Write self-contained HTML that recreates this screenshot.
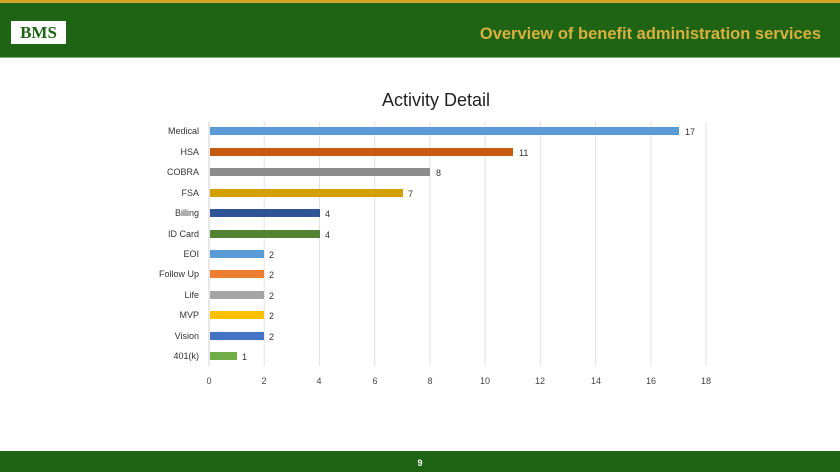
<!DOCTYPE html>
<html><head><meta charset="utf-8"><style>
body{margin:0;width:840px;height:472px;overflow:hidden;background:#fff;font-family:"Liberation Sans",sans-serif;position:relative}
.top{position:absolute;left:0;top:0;width:840px;height:3px;background:#d4a628}
.hdr{position:absolute;left:0;top:3px;width:840px;height:54px;background:#1e6414;border-bottom:1px solid #7fb070}
.logo{position:absolute;left:11px;top:18px;width:55px;height:23px;background:#fff;color:#1e6414;font-family:"Liberation Serif",serif;font-weight:bold;font-size:17px;text-align:center;line-height:23px}
.ttl{position:absolute;right:19px;top:22px;color:#d9b040;font-weight:bold;font-size:16.5px}
.ftr{position:absolute;left:0;top:451px;width:840px;height:21px;background:#1e6414;color:#fff;font-size:9px;font-weight:bold;text-align:center;line-height:25px}
</style></head><body>
<div class="top"></div><div class="hdr"><div class="logo">BMS</div><div class="ttl">Overview of benefit administration services</div></div>
<svg width="840" height="472" style="position:absolute;left:0;top:0" font-family="Liberation Sans, sans-serif">
<text x="436" y="106" font-size="18" text-anchor="middle" fill="#222">Activity Detail</text>
<g stroke="#e0e0e0" stroke-width="1">
<line x1="264.2" y1="122" x2="264.2" y2="366"/><line x1="319.4" y1="122" x2="319.4" y2="366"/><line x1="374.7" y1="122" x2="374.7" y2="366"/><line x1="429.9" y1="122" x2="429.9" y2="366"/><line x1="485.1" y1="122" x2="485.1" y2="366"/><line x1="540.3" y1="122" x2="540.3" y2="366"/><line x1="595.6" y1="122" x2="595.6" y2="366"/><line x1="650.8" y1="122" x2="650.8" y2="366"/><line x1="706" y1="122" x2="706" y2="366"/>
</g>
<line x1="209" y1="122" x2="209" y2="366" stroke="#cfcfcf"/>
<g font-size="9" fill="#444" text-anchor="middle">
<text x="209" y="384">0</text><text x="264" y="384">2</text><text x="319" y="384">4</text><text x="375" y="384">6</text><text x="430" y="384">8</text><text x="485" y="384">10</text><text x="540" y="384">12</text><text x="596" y="384">14</text><text x="651" y="384">16</text><text x="706" y="384">18</text>
</g>
<g font-size="9" fill="#333">
<g text-anchor="end">
<text x="199" y="134">Medical</text><text x="199" y="155">HSA</text><text x="199" y="175">COBRA</text><text x="199" y="196">FSA</text><text x="199" y="216">Billing</text><text x="199" y="237">ID Card</text><text x="199" y="257">EOI</text><text x="199" y="277">Follow Up</text><text x="199" y="298">Life</text><text x="199" y="318">MVP</text><text x="199" y="339">Vision</text><text x="199" y="359">401(k)</text>
</g>
<rect x="210" y="127" width="469" height="8" fill="#5b9bd5"/><text x="685" y="135">17</text>
<rect x="210" y="148" width="303" height="8" fill="#c55a11"/><text x="519" y="156">11</text>
<rect x="210" y="168" width="220" height="8" fill="#8c8c8c"/><text x="436" y="176">8</text>
<rect x="210" y="189" width="193" height="8" fill="#d4a000"/><text x="408" y="197">7</text>
<rect x="210" y="209" width="110" height="8" fill="#2f5597"/><text x="325" y="217">4</text>
<rect x="210" y="230" width="110" height="8" fill="#548235"/><text x="325" y="238">4</text>
<rect x="210" y="250" width="54" height="8" fill="#5b9bd5"/><text x="269" y="258">2</text>
<rect x="210" y="270" width="54" height="8" fill="#ed7d31"/><text x="269" y="278">2</text>
<rect x="210" y="291" width="54" height="8" fill="#a5a5a5"/><text x="269" y="299">2</text>
<rect x="210" y="311" width="54" height="8" fill="#ffc000"/><text x="269" y="319">2</text>
<rect x="210" y="332" width="54" height="8" fill="#4472c4"/><text x="269" y="340">2</text>
<rect x="210" y="352" width="27" height="8" fill="#70ad47"/><text x="242" y="360">1</text>
</g>
</svg>
<div class="ftr">9</div>
</body></html>
